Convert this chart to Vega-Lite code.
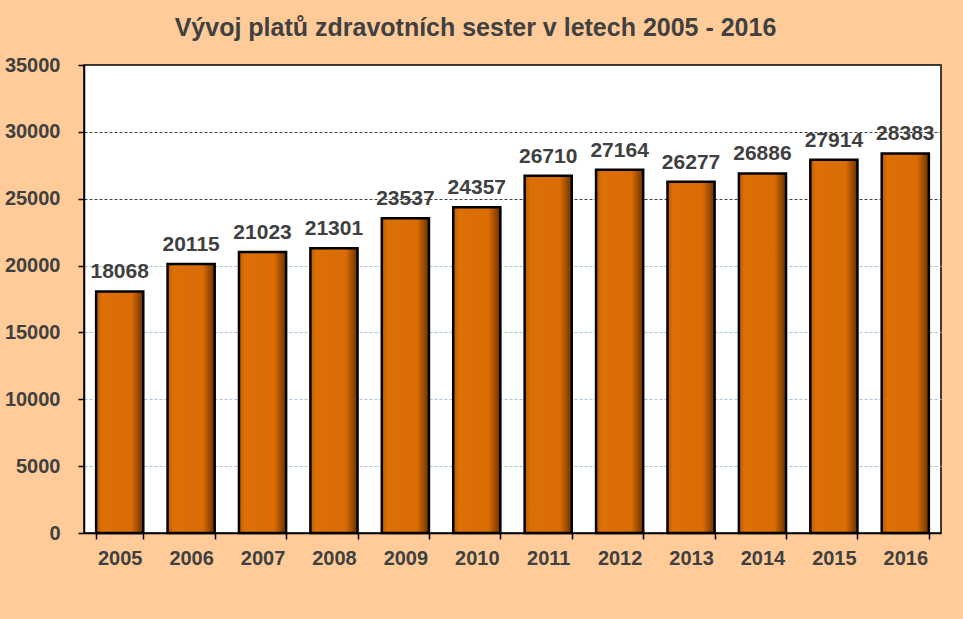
{
  "$schema": "https://vega.github.io/schema/vega-lite/v6.json",
  "width": 857,
  "height": 468,
  "autosize": {"type": "none"},
  "padding": {"left": 84, "top": 65, "right": 22, "bottom": 86},
  "background": "#FFCC99",
  "title": {
    "text": "Vývoj platů zdravotních sester v letech 2005 - 2016",
    "font": "Liberation Sans",
    "fontSize": 25,
    "fontWeight": "bold",
    "color": "#404040",
    "anchor": "middle",
    "frame": "group",
    "dx": -37,
    "baseline": "alphabetic",
    "offset": -6
  },
  "config": {
    "view": {"stroke": "#000000", "strokeWidth": 1.5, "fill": "#FFFFFF"},
    "axis": {
      "labelFont": "Liberation Sans",
      "labelFontSize": 20,
      "labelFontWeight": "bold",
      "labelColor": "#404040",
      "domainColor": "#000000",
      "domainWidth": 1.5,
      "tickColor": "#000000",
      "tickWidth": 1.5,
      "tickSize": 6,
      "title": null
    }
  },
  "data": {
    "values": [
      {"rok": "2005", "plat": 18068},
      {"rok": "2006", "plat": 20115},
      {"rok": "2007", "plat": 21023},
      {"rok": "2008", "plat": 21301},
      {"rok": "2009", "plat": 23537},
      {"rok": "2010", "plat": 24357},
      {"rok": "2011", "plat": 26710},
      {"rok": "2012", "plat": 27164},
      {"rok": "2013", "plat": 26277},
      {"rok": "2014", "plat": 26886},
      {"rok": "2015", "plat": 27914},
      {"rok": "2016", "plat": 28383}
    ]
  },
  "encoding": {
    "x": {
      "field": "rok",
      "type": "ordinal",
      "scale": {"paddingInner": 0.34, "paddingOuter": 0.17},
      "axis": {"labelAngle": 0, "tickBand": "extent", "labelPadding": 9, "grid": false}
    },
    "y": {
      "field": "plat",
      "type": "quantitative",
      "scale": {"domain": [0, 35000], "nice": false},
      "axis": {
        "values": [0, 5000, 10000, 15000, 20000, 25000, 30000, 35000],
        "format": "d",
        "labelPadding": 18,
        "grid": true,
        "gridDash": [3, 2],
        "gridWidth": 1,
        "gridColor": {"condition": {"test": "datum.value >= 25000", "value": "#404040"}, "value": "#A9C3DC"}
      }
    }
  },
  "layer": [
    {
      "mark": {
        "type": "bar",
        "stroke": "#000000",
        "strokeWidth": 2.5,
        "fill": {
          "gradient": "linear",
          "x1": 0, "x2": 1, "y1": 0, "y2": 0,
          "stops": [
            {"offset": 0, "color": "#B95A02"},
            {"offset": 0.12, "color": "#DC7006"},
            {"offset": 0.75, "color": "#D96C04"},
            {"offset": 0.88, "color": "#A04E02"},
            {"offset": 1, "color": "#6A3200"}
          ]
        }
      }
    },
    {
      "mark": {
        "type": "text",
        "baseline": "alphabetic",
        "dy": -13,
        "font": "Liberation Sans",
        "fontSize": 21,
        "fontWeight": "bold",
        "color": "#404040"
      },
      "encoding": {"text": {"field": "plat", "type": "quantitative", "format": "d"}}
    }
  ]
}
